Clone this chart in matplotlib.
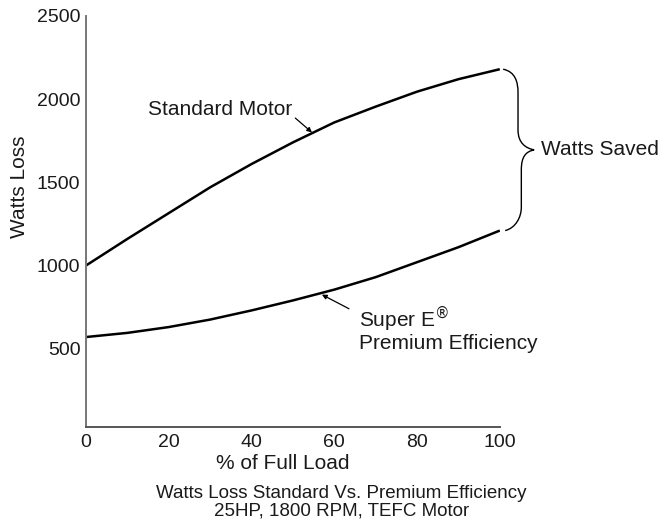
import matplotlib.pyplot as plt
from matplotlib.path import Path
from matplotlib.patches import PathPatch

plt.rcParams['font.family'] = ['Liberation Sans', 'DejaVu Sans']

load_pct = [0, 10, 20, 30, 40, 50, 60, 70, 80, 90, 100]
standard_loss = [1000, 1160, 1315, 1470, 1610, 1740, 1860, 1955, 2045, 2120, 2180]
premium_loss = [570, 595, 630, 675, 730, 790, 855, 930, 1020, 1110, 1210]

x_ticks = [0, 20, 40, 60, 80, 100]
y_ticks = [500, 1000, 1500, 2000, 2500]

fig = plt.figure(figsize=(6.69, 5.27), dpi=100)
ax = fig.add_axes([0.1286, 0.19, 0.6185, 0.7797])

ax.plot(load_pct, standard_loss, color='black', lw=1.8, solid_capstyle='butt')
ax.plot(load_pct, premium_loss, color='black', lw=1.8, solid_capstyle='butt')

ax.set_xlim(0, 100)
ax.set_ylim(30, 2500)
ax.set_xticks(x_ticks)
ax.set_yticks(y_ticks)
ax.tick_params(length=0, labelsize=14, colors='#1a1a1a')
ax.tick_params(axis='x', pad=5)
ax.tick_params(axis='y', pad=4)
for side in ['top', 'right']:
    ax.spines[side].set_visible(False)
ax.spines['left'].set_color('#777777')
ax.spines['bottom'].set_color('#555555')
ax.spines['left'].set_linewidth(1.4)
ax.spines['bottom'].set_linewidth(1.4)

ax.set_xlabel('% of Full Load', fontsize=15, color='#1a1a1a', va='center')
ax.xaxis.set_label_coords(0.475, -0.09)
ax.set_ylabel('Watts Loss', fontsize=15, color='#1a1a1a', va='center')
ax.yaxis.set_label_coords(-0.16, 0.585)

# curve callouts
ax.annotate('Standard Motor', xy=(54.6, 1800), xytext=(49.9, 1935),
            fontsize=15, ha='right', va='center', color='#1a1a1a',
            arrowprops=dict(arrowstyle='-|>', color='black', lw=0.9,
                            mutation_scale=7, shrinkA=0, shrinkB=0,
                            relpos=(1, 0.2)))
ax.annotate('Super E$^{®}$\nPremium Efficiency', xy=(57, 825), xytext=(66, 620),
            fontsize=15, ha='left', va='center', color='#1a1a1a',
            linespacing=1.0,
            arrowprops=dict(arrowstyle='-|>', color='black', lw=0.9,
                            mutation_scale=7, shrinkA=6, shrinkB=0,
                            relpos=(0, 0.8)))

# curly brace spanning the gap at full load
top = standard_loss[-1]
bot = premium_loss[-1]
mid = (top + bot) / 2
x0 = 100.8
verts = [
    (x0, top),
    (x0 + 3.0, top - 15), (x0 + 3.6, top - 80), (x0 + 3.6, top - 140),
    (x0 + 3.6, mid + 120),
    (x0 + 3.6, mid + 40), (x0 + 5.5, mid + 10), (x0 + 7.5, mid),
    (x0 + 5.5, mid - 10), (x0 + 4.4, mid - 40), (x0 + 4.4, mid - 120),
    (x0 + 4.4, bot + 140),
    (x0 + 4.4, bot + 80), (x0 + 3.0, bot + 15), (x0 + 0.5, bot),
]
codes = [Path.MOVETO,
         Path.CURVE4, Path.CURVE4, Path.CURVE4,
         Path.LINETO,
         Path.CURVE4, Path.CURVE4, Path.CURVE4,
         Path.CURVE4, Path.CURVE4, Path.CURVE4,
         Path.LINETO,
         Path.CURVE4, Path.CURVE4, Path.CURVE4]
brace = PathPatch(Path(verts, codes), fill=False, lw=1.0, edgecolor='black',
                  clip_on=False)
ax.add_patch(brace)
ax.text(x0 + 9.2, mid, 'Watts Saved', fontsize=15, ha='left', va='center',
        color='#1a1a1a')

fig.text(0.51, 0.0474, 'Watts Loss Standard Vs. Premium Efficiency\n25HP, 1800 RPM, TEFC Motor',
         ha='center', va='center', fontsize=13.5, color='#1a1a1a', linespacing=1.0)

fig.savefig('out.png', dpi=100)
